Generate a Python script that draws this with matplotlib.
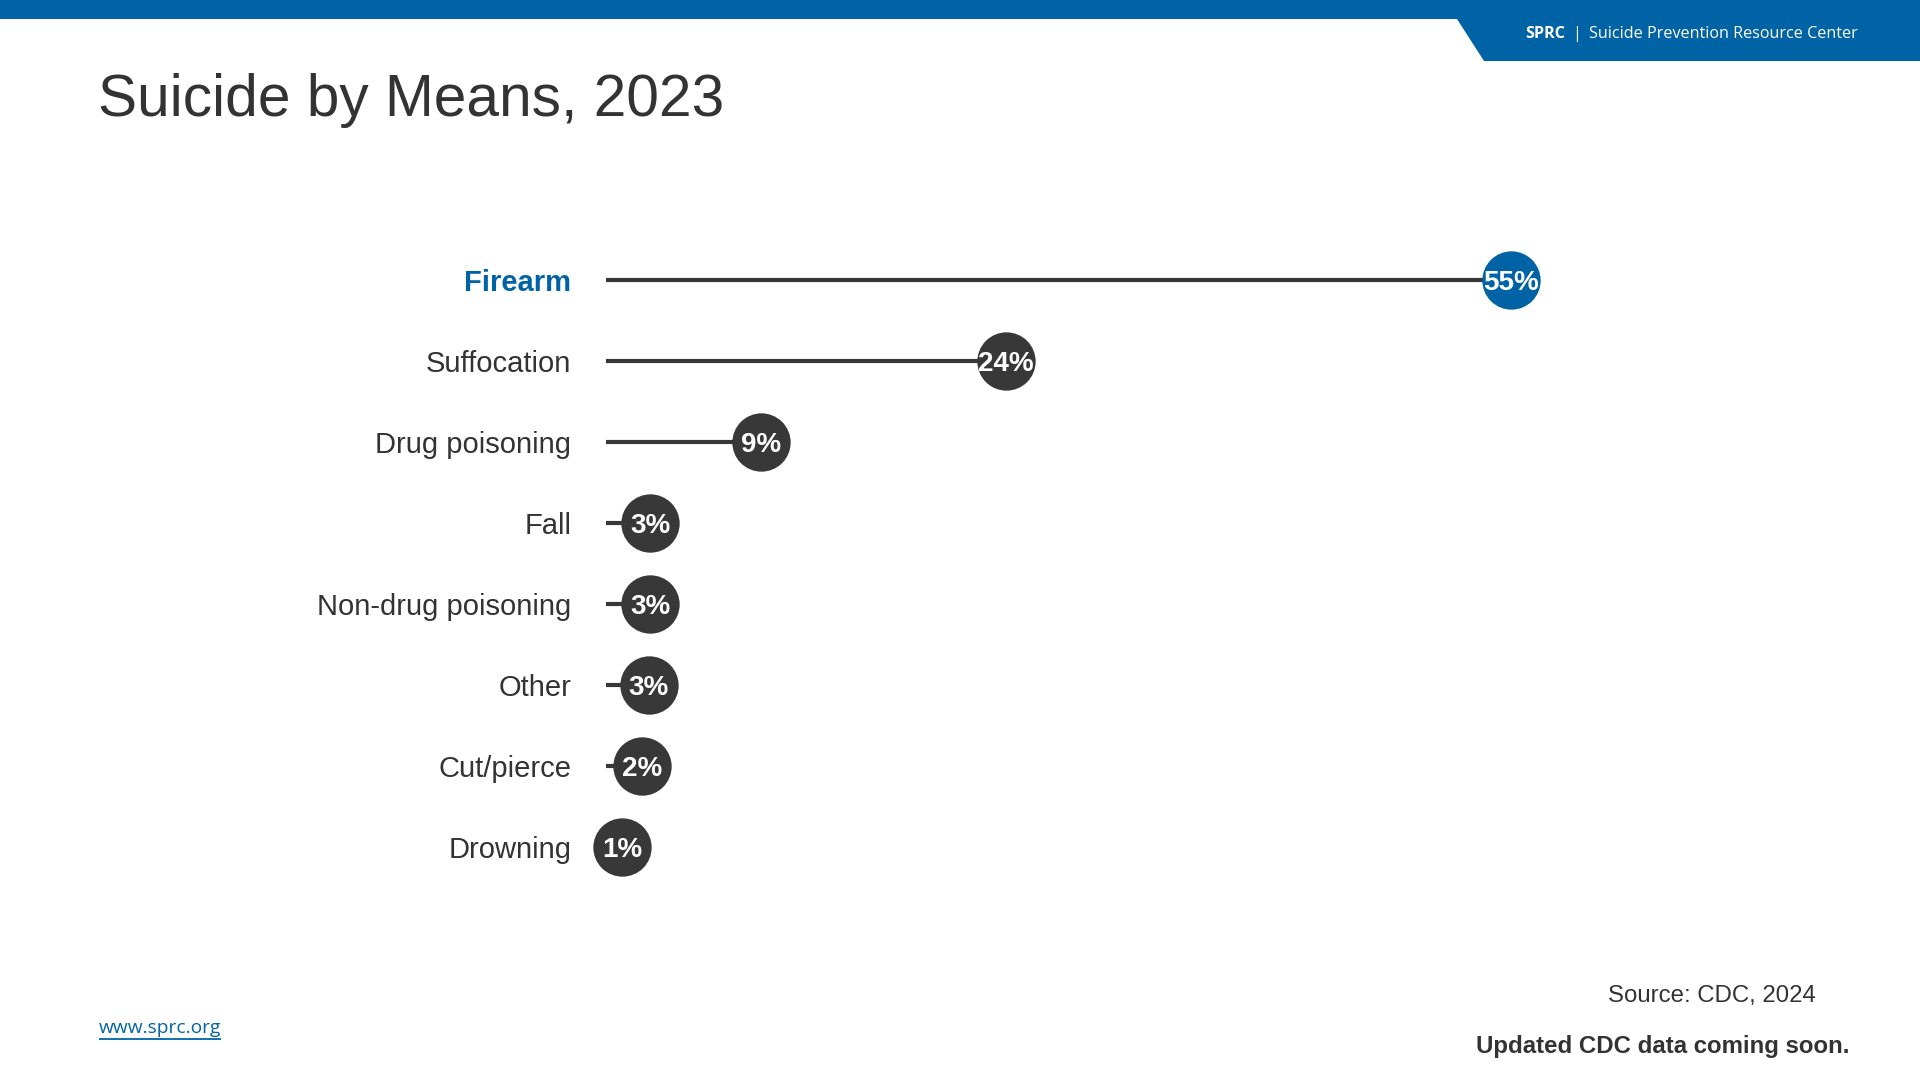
import matplotlib
matplotlib.use("Agg")
import matplotlib.pyplot as plt
from matplotlib.patches import Polygon, Rectangle

# ---- data ----
categories = ["Firearm", "Suffocation", "Drug poisoning", "Fall",
              "Non-drug poisoning", "Other", "Cut/pierce", "Drowning"]
values = [55.0, 24.3, 9.4, 2.7, 2.7, 2.6, 2.2, 1.0]
value_labels = ["55%", "24%", "9%", "3%", "3%", "3%", "2%", "1%"]
highlight = "Firearm"

title = "Suicide by Means, 2023"
source_text = "Source: CDC, 2024"
note_text = "Updated CDC data coming soon."
url_text = "www.sprc.org"
header_bold = "SPRC"
header_text = "Suicide Prevention Resource Center"

BLUE = "#0063a6"
DARK = "#383838"
TEXT = "#333333"

W, H = 1920, 1080
fig = plt.figure(figsize=(W / 100, H / 100), dpi=100)
fig.patch.set_facecolor("white")

# background axes in pixel coordinates
bg = fig.add_axes([0, 0, 1, 1])
bg.set_xlim(0, W)
bg.set_ylim(H, 0)
bg.axis("off")

# header bar + tab
bg.add_patch(Rectangle((0, 0), W, 19, color=BLUE, lw=0))
bg.add_patch(Polygon([(1457, 19), (W, 19), (W, 61), (1484, 61)], closed=True, color=BLUE, lw=0))
bg.text(1525, 34, header_bold, color="white", fontsize=11.6, fontweight="bold",
        family="Open Sans", va="center", ha="left")
bg.text(1577, 34, "|", color="white", fontsize=11.6, family="Open Sans", va="center", ha="center")
bg.text(1589, 34, header_text, color="white", fontsize=11.6, family="Open Sans",
        va="center", ha="left")

# title
bg.text(98, 116, title, color=TEXT, fontsize=42.2, family="Liberation Sans",
        va="baseline", ha="left")

# footer
bg.text(1608, 996, source_text, color=TEXT, fontsize=17.3, family="Liberation Sans",
        va="center", ha="left")
bg.text(1476, 1046, note_text, color=TEXT, fontsize=17.3, fontweight="bold",
        family="Liberation Sans", va="center", ha="left")
t = bg.text(99, 1028, url_text, color=BLUE, fontsize=13.8, family="Open Sans",
            va="center", ha="left")
fig.canvas.draw()
bb = t.get_window_extent(renderer=fig.canvas.get_renderer())
bg.plot([bb.x0, bb.x1], [1039, 1039], color=BLUE, lw=1.3, solid_capstyle="butt")

# chart axes
x0_px, px_per_unit = 606, 16.45
row_top, row_h = 239.5, 81.0
n = len(categories)
ax_w_px = 1100
ax = fig.add_axes([x0_px / W, 1 - (row_top + n * row_h) / H, ax_w_px / W, n * row_h / H])
ax.set_xlim(0, ax_w_px / px_per_unit)
ax.set_ylim(n - 0.5, -0.5)
ax.axis("off")

for i, (cat, v, lab) in enumerate(zip(categories, values, value_labels)):
    is_hi = cat == highlight
    ax.plot([0, v], [i, i], color=DARK, lw=3, solid_capstyle="butt", zorder=2)
    ax.plot([v], [i], marker="o", markersize=42, color=BLUE if is_hi else DARK,
            markeredgewidth=0, zorder=3, clip_on=False)
    ax.text(v, i, lab, color="white", fontsize=20, fontweight="bold",
            family="Liberation Sans", ha="center", va="center_baseline", zorder=4)
    ax.text(-2.1, i, cat, color=BLUE if is_hi else TEXT, fontsize=21,
            fontweight="bold" if is_hi else "normal", family="Liberation Sans",
            ha="right", va="center_baseline", clip_on=False)

fig.savefig("out.png", dpi=100, facecolor="white")
